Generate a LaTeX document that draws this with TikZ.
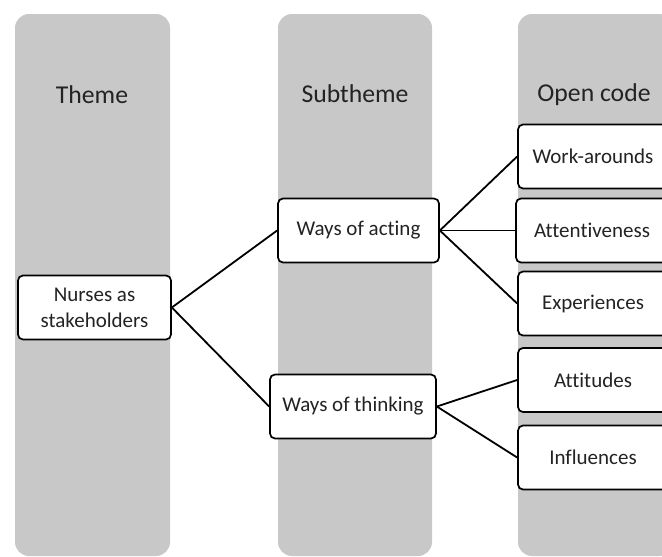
\documentclass[tikz,border=0pt]{standalone}
\usepackage{fontspec}
\setmainfont{Carlito}[Ligatures=NoCommon]
\usetikzlibrary{positioning}
\definecolor{colgray}{RGB}{200,200,200}
\definecolor{txtgray}{RGB}{35,35,35}

\begin{document}
\begin{tikzpicture}[x=1pt, y=-1pt,
		column/.style={fill=colgray, rounded corners=14pt},
		head/.style={font=\fontsize{25.7}{28}\selectfont, text=txtgray},
		box/.style={draw, line width=1.7pt, fill=white, rounded corners=5pt, inner sep=0pt,
			align=center, minimum height=64pt, font=\fontsize{21}{26}\selectfont, text=txtgray},
		link/.style={line width=1.8pt}]
		\clip (0, 0) rectangle (662, 557);
		\fill[white] (0, 0) rectangle (662, 557);

		% the three columns
		\fill[column] (15, 14) rectangle (170, 556);
		\fill[column] (278, 14) rectangle (432, 556);
		\fill[column] (518, 14) rectangle (673, 556);

		\path (92, 95)   node[head] (theme) {Theme}
		      (355, 94)  node[head] (subtheme) {Subtheme}
		      (594, 95)  node[head] (opencode) {Open code};

		\path (94.5, 307.5) node[box, minimum width=153pt] (nurses) {Nurses as\\stakeholders}
		      (358.5, 230.5) node[box, minimum width=161pt] (acting) {Ways of acting}
		      (353, 406.5)   node[box, minimum width=166pt] (thinking) {Ways of thinking}
		      (593, 156.5)   node[box, minimum width=150pt] (workarounds) {Work-arounds}
		      (592, 230.5)   node[box, minimum width=152pt] (attentiveness) {Attentiveness}
		      (593, 303.5)   node[box, minimum width=150pt] (experiences) {Experiences}
		      (593, 380)     node[box, minimum width=150pt] (attitudes) {Attitudes}
		      (593, 457.5)   node[box, minimum width=150pt] (influences) {Influences};

		\draw[link] (nurses.east) -- (acting.west);
		\draw[link] (nurses.east) -- (thinking.west);
		\draw[link] (acting.east) -- (workarounds.west);
		\draw[link] (acting.east) -- (attentiveness.west);
		\draw[link] (acting.east) -- (experiences.west);
		\draw[link] (thinking.east) -- (attitudes.west);
		\draw[link] (thinking.east) -- (influences.west);
	\end{tikzpicture}
\end{document}
